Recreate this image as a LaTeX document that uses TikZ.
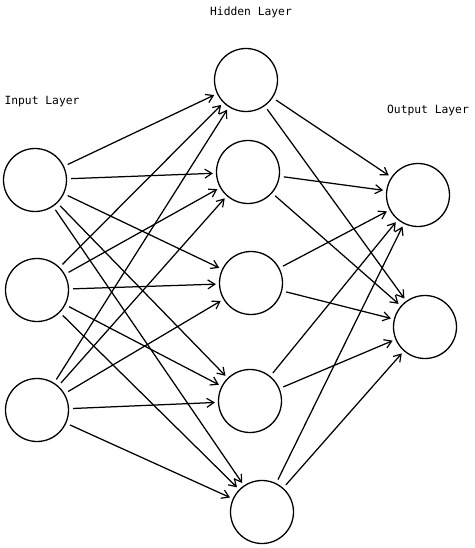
\documentclass[tikz,border=0pt]{standalone}
\usepackage{fontspec}
\setmonofont{DejaVu Sans Mono}
\usetikzlibrary{arrows.meta}

\tikzset{
  neuron/.style={draw, circle, line width=1.3pt, minimum size=63pt, inner sep=0pt},
  layerlabel/.style={font=\ttfamily\fontsize{11.3}{13}\selectfont},
  link/.style={line width=1.25pt, shorten <=4pt, shorten >=3pt, -{Straight Barb[length=7pt,width=9pt,line width=1.2pt]}}
}

\begin{document}
\begin{tikzpicture}[x=1pt,y=-1pt]
\useasboundingbox (0,0) rectangle (474,548);

% labels
\node[layerlabel] (hlabel) at (251,12) {Hidden Layer};
\node[layerlabel] (ilabel) at (42,102) {Input Layer};
\node[layerlabel] (olabel) at (428,110) {Output Layer};

% input layer
\node[neuron] (i1) at (35,180) {};
\node[neuron] (i2) at (37,290) {};
\node[neuron] (i3) at (37,410) {};

% hidden layer
\node[neuron] (h1) at (246,80) {};
\node[neuron] (h2) at (248,172) {};
\node[neuron] (h3) at (251,283) {};
\node[neuron] (h4) at (250,401) {};
\node[neuron] (h5) at (262,512) {};

% output layer
\node[neuron] (o1) at (418,195) {};
\node[neuron] (o2) at (425,327) {};

% connections
\foreach \a in {1,2,3}
  \foreach \b in {1,...,5}
    \draw[link] (i\a) -- (h\b);
\foreach \a in {1,...,5}
  \foreach \b in {1,2}
    \draw[link] (h\a) -- (o\b);
\end{tikzpicture}
\end{document}
